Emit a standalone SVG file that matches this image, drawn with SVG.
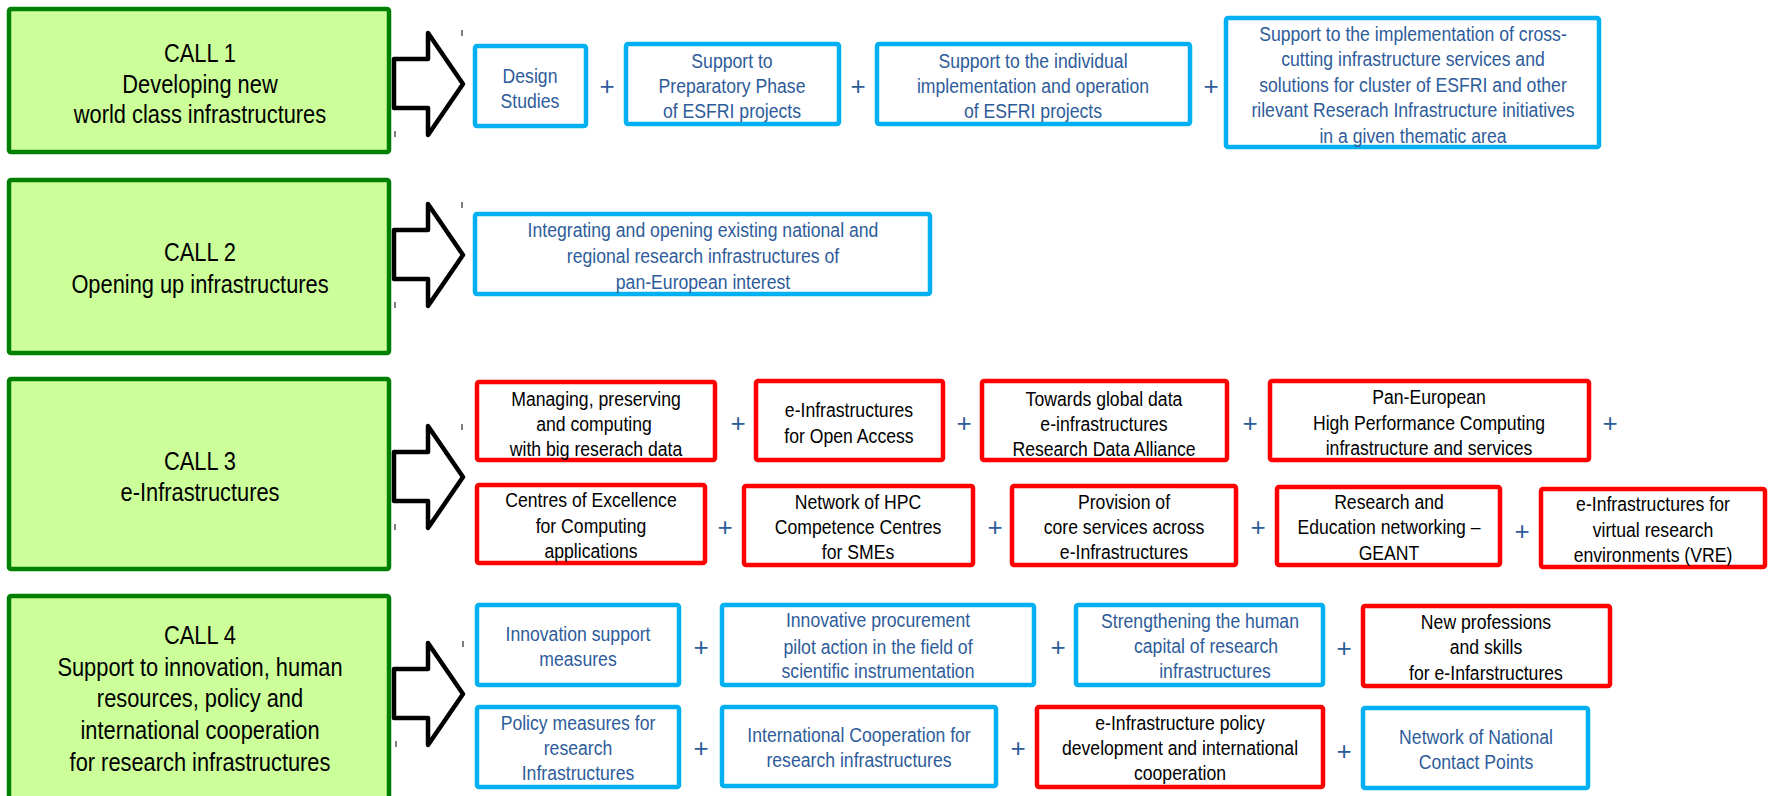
<svg xmlns="http://www.w3.org/2000/svg" width="1771" height="796" viewBox="0 0 1771 796">
<style>
.call{fill:#ccff99;stroke:#008000;stroke-width:4.5}
.blue{fill:#ffffff;stroke:#00b0f0;stroke-width:4.5}
.red{fill:#ffffff;stroke:#ff0000;stroke-width:4.5}
.arrow{fill:#ffffff;stroke:#000000;stroke-width:4.5;stroke-linejoin:round}
.tick{stroke:#555555;stroke-width:1.5}
text{font-family:"Liberation Sans",Arial,sans-serif;text-anchor:middle}
.ct{font-size:26px;fill:#000000}
.bt{font-size:21px;fill:#2e5c9a}
.rt{font-size:21px;fill:#000000}
.plus{font-size:26px;fill:#2e5c9a}
</style>
<rect width="1771" height="796" fill="#ffffff"/>

<g id="call1">
<rect class="call" x="9" y="9" width="380" height="143" rx="2"/>
<text class="ct" transform="translate(200 0) scale(0.84 1)" y="62">CALL 1</text>
<text class="ct" transform="translate(200 0) scale(0.84 1)" y="93">Developing new</text>
<text class="ct" transform="translate(200 0) scale(0.84 1)" y="123">world class infrastructures</text>
</g>
<g id="call2">
<rect class="call" x="9" y="180" width="380" height="173" rx="2"/>
<text class="ct" transform="translate(200 0) scale(0.84 1)" y="261">CALL 2</text>
<text class="ct" transform="translate(200 0) scale(0.84 1)" y="293">Opening up infrastructures</text>
</g>
<g id="call3">
<rect class="call" x="9" y="379" width="380" height="190" rx="2"/>
<text class="ct" transform="translate(200 0) scale(0.84 1)" y="470">CALL 3</text>
<text class="ct" transform="translate(200 0) scale(0.84 1)" y="501">e-Infrastructures</text>
</g>
<g id="call4">
<rect class="call" x="9" y="596" width="380" height="215" rx="2"/>
<text class="ct" transform="translate(200 0) scale(0.84 1)" y="644">CALL 4</text>
<text class="ct" transform="translate(200 0) scale(0.84 1)" y="676">Support to innovation, human</text>
<text class="ct" transform="translate(200 0) scale(0.84 1)" y="707">resources, policy and</text>
<text class="ct" transform="translate(200 0) scale(0.84 1)" y="739">international cooperation</text>
<text class="ct" transform="translate(200 0) scale(0.84 1)" y="771">for research infrastructures</text>
</g>

<g id="connectors">
<polygon class="arrow" points="394,59 428,59 428,33 463,84 428,135 428,108 394,108"/>
<polygon class="arrow" points="394,230 428,230 428,204 463,255 428,306 428,279 394,279"/>
<polygon class="arrow" points="394,452 428,452 428,426 463,477 428,528 428,501 394,501"/>
<polygon class="arrow" points="394,669 428,669 428,643 463,694 428,745 428,718 394,718"/>
<line class="tick" x1="462" y1="30" x2="462" y2="36"/>
<line class="tick" x1="395" y1="131" x2="395" y2="137"/>
<line class="tick" x1="462" y1="202" x2="462" y2="208"/>
<line class="tick" x1="395" y1="302" x2="395" y2="308"/>
<line class="tick" x1="462" y1="424" x2="462" y2="430"/>
<line class="tick" x1="395" y1="524" x2="395" y2="530"/>
<line class="tick" x1="463" y1="641" x2="463" y2="647"/>
<line class="tick" x1="396" y1="741" x2="396" y2="747"/>
<text class="plus" x="607" y="95">+</text>
<text class="plus" x="858" y="95">+</text>
<text class="plus" x="1211" y="95">+</text>
<text class="plus" x="738" y="432">+</text>
<text class="plus" x="964" y="432">+</text>
<text class="plus" x="1250" y="432">+</text>
<text class="plus" x="1610" y="432">+</text>
<text class="plus" x="725" y="536">+</text>
<text class="plus" x="995" y="536">+</text>
<text class="plus" x="1258" y="536">+</text>
<text class="plus" x="1522" y="540">+</text>
<text class="plus" x="701" y="656">+</text>
<text class="plus" x="1058" y="656">+</text>
<text class="plus" x="1344" y="657">+</text>
<text class="plus" x="701" y="757">+</text>
<text class="plus" x="1018" y="757">+</text>
<text class="plus" x="1344" y="760">+</text>
</g>

<g id="design-studies">
<rect class="blue" x="475" y="46" width="111" height="80" rx="2"/>
<text class="bt" transform="translate(530 0) scale(0.84 1)" y="83">Design</text>
<text class="bt" transform="translate(530 0) scale(0.84 1)" y="108">Studies</text>
</g>
<g id="preparatory">
<rect class="blue" x="626" y="44" width="213" height="80" rx="2"/>
<text class="bt" transform="translate(732 0) scale(0.84 1)" y="68">Support to</text>
<text class="bt" transform="translate(732 0) scale(0.84 1)" y="93">Preparatory Phase</text>
<text class="bt" transform="translate(732 0) scale(0.84 1)" y="118">of ESFRI projects</text>
</g>
<g id="individual">
<rect class="blue" x="877" y="44" width="313" height="80" rx="2"/>
<text class="bt" transform="translate(1033 0) scale(0.84 1)" y="68">Support to the individual</text>
<text class="bt" transform="translate(1033 0) scale(0.84 1)" y="93">implementation and operation</text>
<text class="bt" transform="translate(1033 0) scale(0.84 1)" y="118">of ESFRI projects</text>
</g>
<g id="cross-cutting">
<rect class="blue" x="1226" y="18" width="373" height="129" rx="2"/>
<text class="bt" transform="translate(1413 0) scale(0.84 1)" y="41">Support to the implementation of cross-</text>
<text class="bt" transform="translate(1413 0) scale(0.84 1)" y="66">cutting infrastructure services and</text>
<text class="bt" transform="translate(1413 0) scale(0.84 1)" y="92">solutions for cluster of ESFRI and other</text>
<text class="bt" transform="translate(1413 0) scale(0.84 1)" y="117">rilevant Reserach Infrastructure initiatives</text>
<text class="bt" transform="translate(1413 0) scale(0.84 1)" y="143">in a given thematic area</text>
</g>

<g id="integrating">
<rect class="blue" x="475" y="214" width="455" height="80" rx="2"/>
<text class="bt" transform="translate(703 0) scale(0.84 1)" y="237">Integrating and opening existing national and</text>
<text class="bt" transform="translate(703 0) scale(0.84 1)" y="263">regional research infrastructures of</text>
<text class="bt" transform="translate(703 0) scale(0.84 1)" y="289">pan-European interest</text>
</g>

<g id="big-data">
<rect class="red" x="477" y="382" width="238" height="78" rx="2"/>
<text class="rt" transform="translate(596 0) scale(0.84 1)" y="406">Managing, preserving</text>
<text class="rt" transform="translate(594 0) scale(0.84 1)" y="431">and computing</text>
<text class="rt" transform="translate(596 0) scale(0.84 1)" y="456">with big reserach data</text>
</g>
<g id="open-access">
<rect class="red" x="756" y="381" width="187" height="79" rx="2"/>
<text class="rt" transform="translate(849 0) scale(0.84 1)" y="417">e-Infrastructures</text>
<text class="rt" transform="translate(849 0) scale(0.84 1)" y="443">for Open Access</text>
</g>
<g id="global-data">
<rect class="red" x="982" y="381" width="245" height="79" rx="2"/>
<text class="rt" transform="translate(1104 0) scale(0.84 1)" y="406">Towards global data</text>
<text class="rt" transform="translate(1104 0) scale(0.84 1)" y="431">e-infrastructures</text>
<text class="rt" transform="translate(1104 0) scale(0.84 1)" y="456">Research Data Alliance</text>
</g>
<g id="hpc">
<rect class="red" x="1270" y="381" width="319" height="79" rx="2"/>
<text class="rt" transform="translate(1429 0) scale(0.84 1)" y="404">Pan-European</text>
<text class="rt" transform="translate(1429 0) scale(0.84 1)" y="430">High Performance Computing</text>
<text class="rt" transform="translate(1429 0) scale(0.84 1)" y="455">infrastructure and services</text>
</g>
<g id="centres">
<rect class="red" x="477" y="485" width="228" height="78" rx="2"/>
<text class="rt" transform="translate(591 0) scale(0.84 1)" y="507">Centres of Excellence</text>
<text class="rt" transform="translate(591 0) scale(0.84 1)" y="533">for Computing</text>
<text class="rt" transform="translate(591 0) scale(0.84 1)" y="558">applications</text>
</g>
<g id="hpc-centres">
<rect class="red" x="744" y="486" width="229" height="79" rx="2"/>
<text class="rt" transform="translate(858 0) scale(0.84 1)" y="509">Network of HPC</text>
<text class="rt" transform="translate(858 0) scale(0.84 1)" y="534">Competence Centres</text>
<text class="rt" transform="translate(858 0) scale(0.84 1)" y="559">for SMEs</text>
</g>
<g id="core-services">
<rect class="red" x="1012" y="486" width="224" height="79" rx="2"/>
<text class="rt" transform="translate(1124 0) scale(0.84 1)" y="509">Provision of</text>
<text class="rt" transform="translate(1124 0) scale(0.84 1)" y="534">core services across</text>
<text class="rt" transform="translate(1124 0) scale(0.84 1)" y="559">e-Infrastructures</text>
</g>
<g id="geant">
<rect class="red" x="1277" y="487" width="223" height="78" rx="2"/>
<text class="rt" transform="translate(1389 0) scale(0.84 1)" y="509">Research and</text>
<text class="rt" transform="translate(1389 0) scale(0.84 1)" y="534">Education networking –</text>
<text class="rt" transform="translate(1389 0) scale(0.84 1)" y="560">GEANT</text>
</g>
<g id="vre">
<rect class="red" x="1541" y="489" width="224" height="78" rx="2"/>
<text class="rt" transform="translate(1653 0) scale(0.84 1)" y="511">e-Infrastructures for</text>
<text class="rt" transform="translate(1653 0) scale(0.84 1)" y="537">virtual research</text>
<text class="rt" transform="translate(1653 0) scale(0.84 1)" y="562">environments (VRE)</text>
</g>

<g id="innovation-support">
<rect class="blue" x="477" y="605" width="202" height="80" rx="2"/>
<text class="bt" transform="translate(578 0) scale(0.84 1)" y="641">Innovation support</text>
<text class="bt" transform="translate(578 0) scale(0.84 1)" y="666">measures</text>
</g>
<g id="procurement">
<rect class="blue" x="722" y="605" width="312" height="80" rx="2"/>
<text class="bt" transform="translate(878 0) scale(0.84 1)" y="627">Innovative procurement</text>
<text class="bt" transform="translate(878 0) scale(0.84 1)" y="654">pilot action in the field of</text>
<text class="bt" transform="translate(878 0) scale(0.84 1)" y="678">scientific instrumentation</text>
</g>
<g id="human-capital">
<rect class="blue" x="1076" y="605" width="247" height="80" rx="2"/>
<text class="bt" transform="translate(1200 0) scale(0.84 1)" y="628">Strengthening the human</text>
<text class="bt" transform="translate(1206 0) scale(0.84 1)" y="653">capital of research</text>
<text class="bt" transform="translate(1215 0) scale(0.84 1)" y="678">infrastructures</text>
</g>
<g id="new-professions">
<rect class="red" x="1363" y="606" width="247" height="80" rx="2"/>
<text class="rt" transform="translate(1486 0) scale(0.84 1)" y="629">New professions</text>
<text class="rt" transform="translate(1486 0) scale(0.84 1)" y="654">and skills</text>
<text class="rt" transform="translate(1486 0) scale(0.84 1)" y="680">for e-Infarstructures</text>
</g>
<g id="policy-measures">
<rect class="blue" x="477" y="707" width="202" height="80" rx="2"/>
<text class="bt" transform="translate(578 0) scale(0.84 1)" y="730">Policy measures for</text>
<text class="bt" transform="translate(578 0) scale(0.84 1)" y="755">research</text>
<text class="bt" transform="translate(578 0) scale(0.84 1)" y="780">Infrastructures</text>
</g>
<g id="international">
<rect class="blue" x="722" y="707" width="274" height="79" rx="2"/>
<text class="bt" transform="translate(859 0) scale(0.84 1)" y="742">International Cooperation for</text>
<text class="bt" transform="translate(859 0) scale(0.84 1)" y="767">research infrastructures</text>
</g>
<g id="einfra-policy">
<rect class="red" x="1037" y="707" width="286" height="80" rx="2"/>
<text class="rt" transform="translate(1180 0) scale(0.84 1)" y="730">e-Infrastructure policy</text>
<text class="rt" transform="translate(1180 0) scale(0.84 1)" y="755">development and international</text>
<text class="rt" transform="translate(1180 0) scale(0.84 1)" y="780">cooperation</text>
</g>
<g id="ncp">
<rect class="blue" x="1363" y="708" width="225" height="80" rx="2"/>
<text class="bt" transform="translate(1476 0) scale(0.84 1)" y="744">Network of National</text>
<text class="bt" transform="translate(1476 0) scale(0.84 1)" y="769">Contact Points</text>
</g>
</svg>
